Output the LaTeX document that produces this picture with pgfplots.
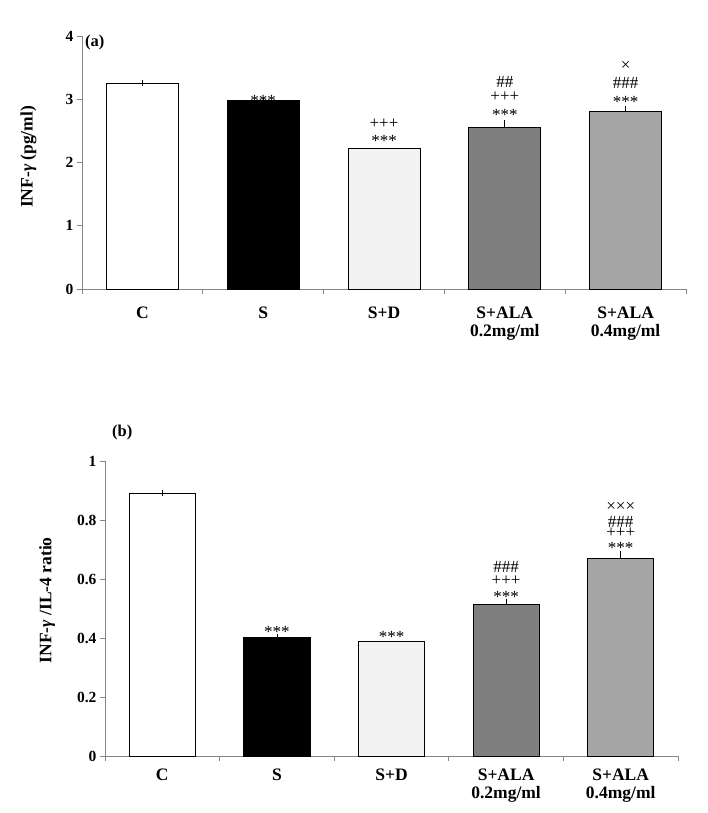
\documentclass[border=0pt]{standalone}
\usepackage{fontspec}
\setmainfont{Liberation Serif}
\usepackage{pgfplots}
\pgfplotsset{compat=1.18}
\definecolor{axgray}{HTML}{868686}
\definecolor{cSD}{HTML}{F2F2F2}
\definecolor{cA2}{HTML}{7F7F7F}
\definecolor{cA4}{HTML}{A5A5A5}
\newcommand\annof{\fontsize{17}{17}\selectfont}
\tikzset{anno/.style={font=\annof, anchor=base, inner sep=0pt}}
\pgfplotsset{
  mybase/.style={
    scale only axis, clip=false,
    xmin=-0.5, xmax=4.5, ymin=0,
    axis x line*=bottom, axis y line*=left,
    axis line style={draw=axgray, line width=0.8pt},
    xtick={0,...,4},
    xticklabels={C,S,S+D,{S+ALA\\0.2mg/ml},{S+ALA\\0.4mg/ml}},
    minor xtick={-0.5,0.5,1.5,2.5,3.5,4.5},
    tick align=outside, major tick length=5pt, minor tick length=5pt,
    major x tick style={draw=none},
    every tick/.style={draw=axgray, line width=0.8pt},
    /pgf/number format/assume math mode=true,
    ticklabel style={font=\bfseries\fontsize{15.5}{16}\selectfont},
    xticklabel style={align=center, font=\bfseries\fontsize{17.5}{18.5}\selectfont},
    ylabel style={font=\bfseries\fontsize{17.5}{18}\selectfont, anchor=center},
  },
  mybar/.style={ybar, bar shift=0pt, draw=black, line width=0.8pt,
    error bars/y dir=plus, error bars/y explicit,
    error bars/error bar style={line width=0.8pt, black},
    error bars/error mark options={line width=0.8pt, mark size=3pt, black}},
}
\begin{document}
\begin{tikzpicture}[x=1pt,y=1pt]
\useasboundingbox (0,0) rectangle (708,813);
% ---------------- panel (a)
\begin{axis}[mybase,
  at={(82pt,524pt)}, anchor=south west,
  width=604pt, height=253pt,
  ymax=4, ytick={0,1,2,3,4},
  xticklabel style={yshift=-9pt},
  ylabel={INF-\textit{γ} (pg/ml)},
  ylabel style={at={(axis description cs:-0.0886,0.522)}},
]
\addplot[mybar, bar width=0.595, fill=white] coordinates {(0,3.25) +- (0,0.008)};
\addplot[mybar, bar width=0.595, fill=black] coordinates {(1,2.98) +- (0,0.004)};
\addplot[ybar, bar shift=0pt, draw=black, line width=0.8pt, bar width=0.595, fill=cSD] coordinates {(2,2.22)};
\addplot[mybar, bar width=0.595, fill=cA2] coordinates {(3,2.56) +- (0,0.06)};
\addplot[mybar, bar width=0.595, fill=cA4] coordinates {(4,2.81) +- (0,0.03)};
\node[anno] at (axis cs:1,2.885) {***};
\node[anno] at (axis cs:2,2.253) {***};
\node[anno] at (axis cs:2,2.538) {+++};
\node[anno] at (axis cs:3,2.664) {***};
\node[anno] at (axis cs:3,2.964) {+++};
\node[anno] at (axis cs:3,3.178) {\#\#};
\node[anno] at (axis cs:4,2.870) {***};
\node[anno] at (axis cs:4,3.162) {\#\#\#};
\node[anno] at (axis cs:4,3.455) {×};
\node[anchor=north west, inner sep=0pt, font=\bfseries\fontsize{16.5}{17}\selectfont]
  at (rel axis cs:0,1) [xshift=3pt, yshift=1pt] {(a)};
\end{axis}
% ---------------- panel (b)
\begin{axis}[mybase,
  at={(105pt,57pt)}, anchor=south west,
  width=573pt, height=295pt,
  ymax=1, ytick={0,0.2,0.4,0.6,0.8,1},
  yticklabels={0,0.2,0.4,0.6,0.8,1},
  xticklabel style={yshift=-4pt},
  ylabel={INF-\textit{γ} /IL-4 ratio},
  ylabel style={at={(axis description cs:-0.101,0.528)}},
]
\addplot[mybar, bar width=0.576, fill=white] coordinates {(0,0.889) +- (0,0.002)};
\addplot[mybar, bar width=0.576, fill=black] coordinates {(1,0.401) +- (0,0.002)};
\addplot[ybar, bar shift=0pt, draw=black, line width=0.8pt, bar width=0.576, fill=cSD] coordinates {(2,0.387)};
\addplot[mybar, bar width=0.576, fill=cA2] coordinates {(3,0.514) +- (0,0.009)};
\addplot[mybar, bar width=0.576, fill=cA4] coordinates {(4,0.669) +- (0,0.017)};
\node[anno] at (axis cs:1,0.401) {***};
\node[anno] at (axis cs:2,0.386) {***};
\node[anno] at (axis cs:3,0.519) {***};
\node[anno] at (axis cs:3,0.577) {+++};
\node[anno] at (axis cs:3,0.623) {\#\#\#};
\node[anno] at (axis cs:4,0.685) {***};
\node[anno] at (axis cs:4,0.740) {+++};
\node[anno] at (axis cs:4,0.775) {\#\#\#};
\node[anno] at (axis cs:4,0.828) {×××};
\node[anchor=west, inner sep=0pt, font=\bfseries\fontsize{16.5}{17}\selectfont]
  at (rel axis cs:0,1) [xshift=7pt, yshift=28pt] {(b)};
\end{axis}
\end{tikzpicture}
\end{document}
